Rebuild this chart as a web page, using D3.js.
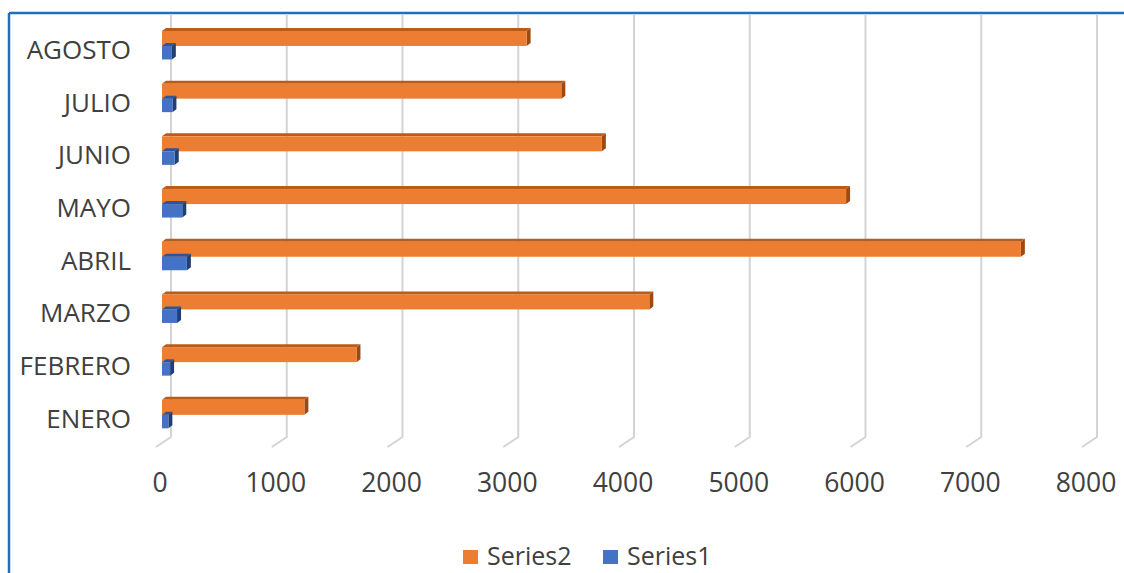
<!DOCTYPE html>
<html>
<head>
<meta charset="utf-8">
<script src="https://cdn.jsdelivr.net/npm/d3@7"></script>
<style>
  html, body { margin: 0; padding: 0; background: #fff; }
  svg { display: block; font-family: "Open Sans", "Noto Sans", sans-serif; }
</style>
</head>
<body>
<svg id="chart" width="1124" height="573"></svg>
<script>
// ---- data ----
const categories = ["ENERO", "FEBRERO", "MARZO", "ABRIL", "MAYO", "JUNIO", "JULIO", "AGOSTO"];
const series2 = [1230, 1680, 4210, 7420, 5910, 3800, 3450, 3150];
const series1 = [55, 70, 130, 215, 175, 110, 90, 85];
const seriesNames = ["Series2", "Series1"];
const tickValues = [0, 1000, 2000, 3000, 4000, 5000, 6000, 7000, 8000];

// ---- layout ----
const W = 1124, H = 573;
const svg = d3.select("#chart");
const colors = {
  Series2: { front: "#ed7d31", top: "#b85c1c", side: "#9c4a12" },
  Series1: { front: "#4472c4", top: "#2f5597", side: "#223f73" }
};

const xLen = 926;
const xBack = d3.scaleLinear().domain([0, 8000]).range([171, 171 + xLen]);
const xFront = d3.scaleLinear().domain([0, 8000]).range([157, 157 + xLen]);
const xBar = d3.scaleLinear().domain([0, 8000]).range([162, 162 + xLen]);
const y = d3.scaleBand().domain(categories.slice().reverse()).range([18.6, 440.2]);

const wallTop = 13, wallBottom = 437, floorDy = 10, floorDx = -15;

// border (chart area)
svg.append("line").attr("x1", 9).attr("y1", 13).attr("x2", W).attr("y2", 13)
  .attr("stroke", "#1f6fc0").attr("stroke-width", 2.5);
svg.append("line").attr("x1", 9).attr("y1", 13).attr("x2", 9).attr("y2", H)
  .attr("stroke", "#1f6fc0").attr("stroke-width", 2.5);

// gridlines (back wall + floor)
const grid = svg.append("g");
grid.selectAll("path.grid").data(tickValues).join("path")
  .attr("class", "grid")
  .attr("d", d => `M${xBack(d)},${wallTop + 2}L${xBack(d)},${wallBottom}L${xBack(d) + floorDx},${wallBottom + floorDy}`)
  .attr("fill", "none").attr("stroke", "#d4d4d4").attr("stroke-width", 2);

// x axis labels
svg.append("g").selectAll("text").data(tickValues).join("text")
  .attr("x", d => xFront(d) + 3)
  .attr("y", 492)
  .attr("text-anchor", "middle")
  .attr("font-size", 26.5)
  .attr("fill", "#404040")
  .text(d => d);

// category labels
svg.append("g").selectAll("text").data(categories).join("text")
  .attr("x", 131)
  .attr("y", d => y(d) + y.bandwidth() / 2 + 14)
  .attr("text-anchor", "end")
  .attr("font-size", 26)
  .attr("fill", "#404040")
  .text(d => d);

// 3D bars
const dx = 4, dy = -3;
function bar3d(g, x0, x1, yTop, h, c) {
  g.append("path")
    .attr("d", `M${x1},${yTop}L${x1 + dx},${yTop + dy}L${x1 + dx},${yTop + h + dy}L${x1},${yTop + h}Z`)
    .attr("fill", c.side);
  g.append("path")
    .attr("d", `M${x0},${yTop}L${x0 + dx},${yTop + dy}L${x1 + dx},${yTop + dy}L${x1},${yTop}Z`)
    .attr("fill", c.top);
  g.append("rect").attr("x", x0).attr("y", yTop).attr("width", x1 - x0).attr("height", h)
    .attr("fill", c.front);
}

const bars = svg.append("g");
categories.forEach((cat, i) => {
  const cy = y(cat) + y.bandwidth() / 2;
  const g = bars.append("g");
  bar3d(g, xBar(0), xBar(series2[i]), cy - 14, 15, colors.Series2);
  bar3d(g, xBar(0), xBar(series1[i]), cy + 1, 13.5, colors.Series1);
});

// legend
const legendItems = [
  { name: seriesNames[0], x: 463 },
  { name: seriesNames[1], x: 603 }
];
const lg = svg.append("g");
legendItems.forEach(it => {
  lg.append("rect").attr("x", it.x).attr("y", 550).attr("width", 15).attr("height", 14)
    .attr("fill", colors[it.name].front);
  lg.append("text").attr("x", it.x + 24).attr("y", 565)
    .attr("font-size", 25).attr("fill", "#404040").text(it.name);
});
</script>
</body>
</html>
